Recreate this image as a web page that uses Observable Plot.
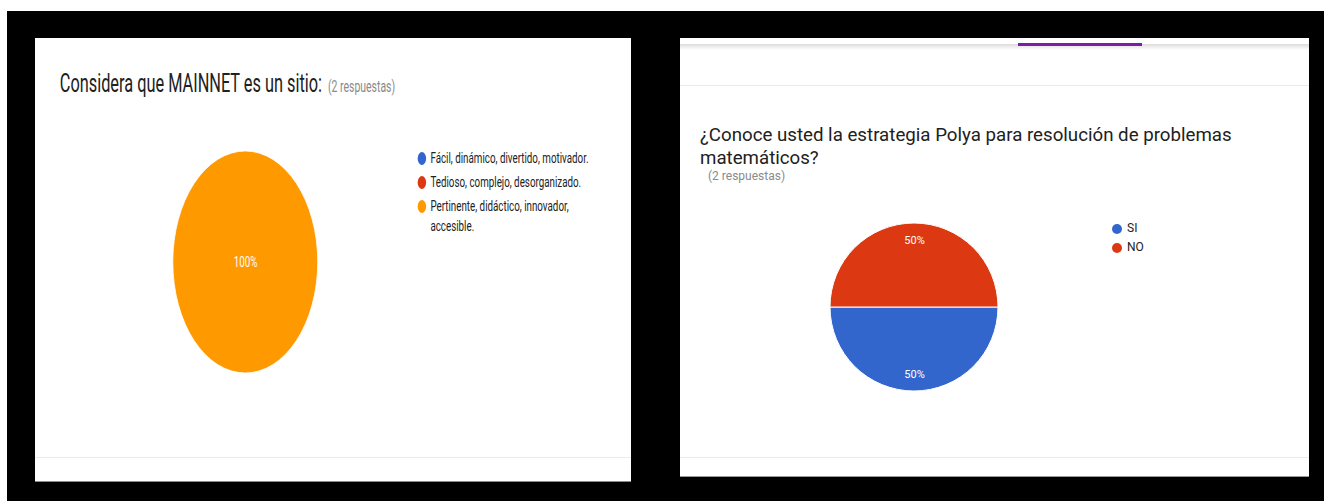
<!DOCTYPE html>
<html><head><meta charset="utf-8">
<script src="https://cdn.jsdelivr.net/npm/d3@7"></script>
<script src="https://cdn.jsdelivr.net/npm/@observablehq/plot@0.6"></script>
<style>
html,body{margin:0;padding:0;background:#fff;width:1324px;height:501px;overflow:hidden;font-family:Roboto,Arial,sans-serif;}
#frame{position:absolute;left:7px;top:11px;width:1317px;height:490px;background:#000;}
.panel{position:absolute;background:#fff;overflow:hidden;}
#left{left:35px;top:38px;width:596px;height:443px;border-bottom:1px solid #8a8a8a;}
#leftInner{position:absolute;left:0;top:0;width:913px;height:444px;transform:scaleX(0.653);transform-origin:0 0;}
#right{left:680px;top:38px;width:629px;height:438px;border-bottom:1px solid #9a9a9a;}
.abs{position:absolute;}
.title{color:#212121;white-space:nowrap;}
.resp{color:#8a8a8a;}
.hline{position:absolute;left:0;right:0;height:1px;background:#ebebeb;}
.leg{position:absolute;}
.item{display:flex;align-items:flex-start;}
.dot{border-radius:50%;flex:none;}
</style></head>
<body>
<div id="frame"></div>
<div id="left" class="panel">
  <div id="leftInner">
    <div class="abs title" id="ltitle" style="left:38px;top:33.5px;font-size:25px;line-height:24px;"></div>
    <div class="abs" id="lpie"></div>
    <div class="leg" id="lleg" style="left:586px;top:110px;width:275px;font-size:15px;line-height:20px;color:#222;"></div>
  </div>
  <div class="hline" style="top:419px;"></div>
</div>
<div id="right" class="panel">
  <div class="abs" style="left:0;right:0;top:6px;height:6px;background:linear-gradient(#dcdcdc,#fff);"></div>
  <div class="abs" style="left:338px;top:5px;width:124px;height:3px;background:#7b1fa2;"></div>
  <div class="hline" style="top:47px;"></div>
  <div class="abs title" id="rtitle" style="left:20px;top:86px;font-size:18.7px;line-height:23px;white-space:normal;width:570px;"></div>
  <div class="abs resp" id="rresp" style="left:28px;top:131px;font-size:12px;line-height:14px;"></div>
  <div class="abs" id="rpie"></div>
  <div class="leg" id="rleg" style="left:432px;top:181px;font-size:12px;line-height:19px;color:#222;"></div>
  <div class="hline" style="top:419px;"></div>
</div>
<script>
// ---- data ----
const leftTitle = "Considera que MAINNET es un sitio:";
const leftResponses = "(2 respuestas)";
const leftCategories = ["Fácil, dinámico, divertido, motivador.", "Tedioso, complejo, desorganizado.", "Pertinente, didáctico, innovador, accesible."];
const leftCounts = [0, 0, 2];
const leftColors = ["#3366cc", "#dc3912", "#ff9900"];

const rightTitle = "¿Conoce usted la estrategia Polya para resolución de problemas matemáticos?";
const rightResponses = "(2 respuestas)";
const rightCategories = ["SI", "NO"];
const rightCounts = [1, 1];
const rightColors = ["#3366cc", "#dc3912"];

function pieChart({categories, counts, colors, radius, startAngle, size, fontSize}) {
  const total = d3.sum(counts);
  const arcs = d3.pie().sort(null).startAngle(startAngle).endAngle(startAngle + 2 * Math.PI)(counts);
  const labelArc = d3.arc().innerRadius(0.6).outerRadius(1);
  const data = categories.map((c, i) => ({category: c, value: counts[i], arc: arcs[i], color: colors[i]}))
    .filter(d => d.value > 0);
  data.forEach(d => {
    const full = d.arc.endAngle - d.arc.startAngle >= 2 * Math.PI - 1e-9;
    const [cx, cy] = full ? [0, 0] : labelArc.centroid(d.arc);
    d.lx = cx; d.ly = -cy;
    d.label = d3.format(".0%")(d.value / total);
  });
  const c = size / 2;
  return Plot.plot({
    width: size, height: size, margin: 0,
    style: {background: "transparent", overflow: "visible"},
    x: {domain: [-1, 1], range: [c - radius, c + radius], axis: null},
    y: {domain: [-1, 1], range: [c + radius, c - radius], axis: null},
    marks: [
      (index, scales) => {
        const x = scales.x, y = scales.y;
        const rx = x(1) - x(0), ry = y(-1) - y(0);
        const arc = d3.arc().innerRadius(0).outerRadius(1);
        const g = d3.create("svg:g").attr("transform", `translate(${x(0)},${y(0)}) scale(${rx},${ry})`);
        g.selectAll("path").data(data).join("path")
          .attr("d", d => arc(d.arc))
          .attr("fill", d => d.color)
          .attr("stroke", "#fff").attr("stroke-width", 1).attr("vector-effect", "non-scaling-stroke");
        return g.node();
      },
      Plot.text(data, {x: "lx", y: "ly", text: "label", fill: "white", fontSize, fontFamily: "Roboto"})
    ]
  });
}

function legend(el, categories, colors, dotSize, gap) {
  categories.forEach((c, i) => {
    const item = document.createElement("div");
    item.className = "item";
    item.style.marginBottom = gap + "px";
    const dot = document.createElement("div");
    dot.className = "dot";
    dot.style.cssText = `width:${dotSize}px;height:${dotSize}px;background:${colors[i]};margin-top:${(parseFloat(getComputedStyle(el).lineHeight) - dotSize) / 2}px;margin-right:${dotSize * 0.5}px;`;
    const t = document.createElement("div");
    t.textContent = c;
    item.appendChild(dot); item.appendChild(t);
    el.appendChild(item);
  });
}

// left panel
const lt = document.getElementById("ltitle");
lt.appendChild(document.createTextNode(leftTitle + " "));
const ls = document.createElement("span"); ls.className = "resp"; ls.style.fontSize = "16px"; ls.style.marginLeft = "3px"; ls.textContent = leftResponses; lt.appendChild(ls);

const lpie = pieChart({categories: leftCategories, counts: leftCounts, colors: leftColors, radius: 111, startAngle: 0, size: 240, fontSize: 15});
const lp = document.getElementById("lpie");
lp.style.left = (321.6 - 120) + "px"; lp.style.top = (224 - 120) + "px";
lp.appendChild(lpie);
legend(document.getElementById("lleg"), leftCategories, leftColors, 13, 4);

// right panel
document.getElementById("rtitle").textContent = rightTitle;
document.getElementById("rresp").textContent = rightResponses;
const rpie = pieChart({categories: rightCategories, counts: rightCounts, colors: rightColors, radius: 84, startAngle: Math.PI / 2, size: 200, fontSize: 11});
const rp = document.getElementById("rpie");
rp.style.left = (234 - 100) + "px"; rp.style.top = (269 - 100) + "px";
rp.appendChild(rpie);
legend(document.getElementById("rleg"), rightCategories, rightColors, 10, 0);
</script>
</body></html>
